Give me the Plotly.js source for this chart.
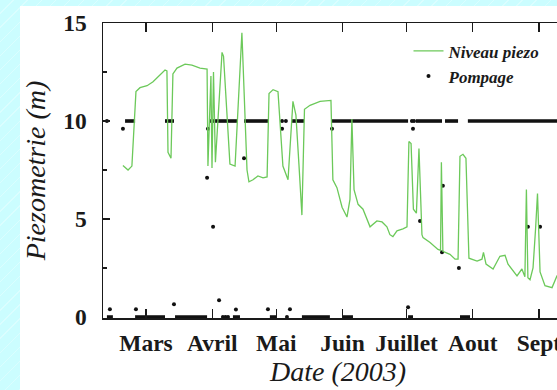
<!DOCTYPE html>
<html><head><meta charset="utf-8">
<script src="https://cdn.plot.ly/plotly-3.0.1.min.js"></script>
<style>
html,body{margin:0;padding:0;overflow:hidden;width:557px;height:390px;
background:#cbfdff repeating-linear-gradient(135deg, rgba(255,255,255,0) 0px, rgba(255,255,255,0) 9px, rgba(255,255,255,0.3) 9px, rgba(255,255,255,0.3) 10px);}
#chart{width:590px;height:390px;}
</style></head><body><div id="chart"></div>
<script>
// x values: day of year 2003 (1 = 1 January)
const monthTicks = [60, 91, 121, 152, 182, 213, 244];
const monthLabels = ['Mars', 'Avril', 'Mai', 'Juin', 'Juillet', 'Aout', 'Sept'];

// Niveau piezo (m)
const niveauDay = [49.2, 51.6, 53.4, 55.3, 57.2, 60.5, 63.3, 66.6, 68.9, 69.8, 70.3, 71.7, 72.6, 74.5, 78.3, 81.5, 85.3, 88.6,
  89.0, 90.4, 90.9, 91.6, 92.5, 95.6, 96.3, 99.3, 101.7, 104.9, 107.3, 108.2, 110.1, 112.4, 114.8, 116.7, 117.6, 119.5, 121.8,
  124.1, 125.1, 126.5, 128.8, 130.2, 131.6, 133.0, 134.2, 136.8, 141.5, 146.6, 147.5, 149.4, 151.8, 154.1, 155.5, 156.4, 157.4,
  159.3, 161.6, 164.9, 168.1, 170.5, 172.8, 174.2, 175.6, 177.5, 180.3, 182.2, 183.1, 184.1, 185.2, 186.6, 187.8, 189.2, 189.7,
  193.0, 196.7, 197.9, 198.3, 199.0, 202.3, 204.7, 206.1, 207.0, 208.4, 209.8, 211.2, 215.0, 217.3, 218.0, 219.2, 222.5, 225.7,
  228.1, 229.5, 233.7, 236.0, 237.4, 238.1, 238.8, 239.8, 241.2, 242.4, 243.3, 244.5, 245.4, 246.8, 250.1, 252.4, 253.8];
const niveauVal = [7.73, 7.5, 7.7, 11.5, 11.7, 11.8, 12.0, 12.35, 12.6, 12.55, 8.4, 8.1, 12.4, 12.7, 12.9, 12.85, 12.7, 12.65,
  7.7, 12.3, 7.6, 12.5, 7.9, 13.5, 13.3, 7.8, 7.7, 14.5, 7.5, 6.9, 7.0, 7.2, 7.1, 7.15, 11.4, 11.6, 11.5,
  7.7, 7.4, 7.0, 11.0, 10.3, 7.8, 5.2, 10.6, 10.8, 11.0, 11.05, 7.0, 6.6, 5.6, 5.1, 6.0, 10.1, 6.5,
  5.75, 5.5, 4.6, 4.9, 4.85, 4.6, 4.2, 4.1, 4.4, 4.5, 4.6, 8.95, 8.85, 5.5, 5.3, 8.6, 4.2, 4.05,
  3.8, 3.45, 3.4, 7.9, 3.35, 3.2, 2.95, 2.95, 8.2, 8.3, 8.1, 3.0, 2.85, 2.95, 3.3, 2.7, 2.45, 3.1,
  3.15, 2.7, 2.1, 2.45, 2.05, 6.5, 2.0, 1.9, 2.5, 4.5, 6.3, 2.3, 2.0, 1.6, 1.5, 2.1, 2.2];

// Pompage: continuous periods of dense readings [start day, end day]
const pompageOnRuns = [[50.2, 54.9], [68.9, 73.1], [90.0, 102.6], [105.9, 117.1], [128.4, 134.0], [147.1, 182.7],
  [186.4, 198.6], [200.0, 206.1], [210.7, 260.0]];
const pompageOnLevel = 10;
const pompageOffRuns = [[41.7, 44.5], [54.9, 68.9], [73.6, 88.6], [100.7, 104.0], [118.0, 121.3], [133.0, 146.1],
  [151.8, 156.9], [182.7, 185.0], [207.0, 211.7]];
const pompageOffLevel = 0;
// Pompage: isolated readings
const pompageDay = [41.7, 43.1, 49.2, 55.3, 73.1, 89.0, 88.6, 91.4, 94.2, 96.0, 97.2, 98.4, 102.1, 105.9, 117.1, 123.7, 123.7,
  125.5, 126.0, 127.4, 147.1, 182.7, 184.5, 185.0, 185.5, 188.3, 198.6, 199.0, 206.5, 238.8, 244.5];
const pompageVal = [10, 0.4, 9.6, 0.4, 0.65, 9.6, 7.1, 4.6, 0.85, 0, 0, 0, 0.38, 8.1, 0.4, 9.6, 10,
  10, 0, 0.4, 9.6, 0.5, 10, 9.6, 10, 4.9, 3.3, 6.7, 2.5, 4.6, 4.6];

const runX = [], runY = [];
[[pompageOnRuns, pompageOnLevel], [pompageOffRuns, pompageOffLevel]].forEach(([runs, lvl]) => {
  runs.forEach(r => { runX.push(r[0], r[1], null); runY.push(lvl, lvl, null); });
});

const serif = 'Liberation Serif, Times New Roman, serif';
const ink = '#1a1a1a';

const traces = [
  {x: runX, y: runY, type: 'scatter', mode: 'lines', line: {color: '#111', width: 3.6}, showlegend: false,
   hoverinfo: 'skip', cliponaxis: false},
  {x: pompageDay, y: pompageVal, type: 'scatter', mode: 'markers', name: 'Pompage', legendrank: 2,
   marker: {color: '#111', size: 4}, cliponaxis: false},
  {x: niveauDay, y: niveauVal, type: 'scatter', mode: 'lines', name: 'Niveau piezo', legendrank: 1,
   line: {color: '#6cc95a', width: 1.3}}
];

const layout = {
  width: 590, height: 390,
  margin: {l: 103, r: 17, t: 23, b: 72},
  paper_bgcolor: 'rgba(0,0,0,0)', plot_bgcolor: 'rgba(0,0,0,0)',
  showlegend: true,
  legend: {x: 0.65, y: 0.965, xanchor: 'left', yanchor: 'top', bgcolor: 'rgba(0,0,0,0)',
    font: {family: serif, size: 17, color: ink, weight: 'bold', style: 'italic'}, tracegroupgap: 0},
  xaxis: {range: [39.87, 259.92], tickmode: 'array', tickvals: monthTicks, ticktext: monthLabels,
    ticks: 'inside', ticklen: 9, tickwidth: 1.2, tickcolor: ink, showline: true, linecolor: ink, linewidth: 1.5,
    mirror: 'ticks', showgrid: false, zeroline: false, ticklabelstandoff: 3,
    tickfont: {family: serif, size: 23.5, color: ink, weight: 'bold'},
    title: {text: 'Date (2003)', font: {family: serif, size: 28, color: ink, style: 'italic'}, standoff: 5}},
  yaxis: {range: [-0.05, 15], tickmode: 'array', tickvals: [0, 5, 10, 15],
    ticks: 'inside', ticklen: 7, tickwidth: 1.2, tickcolor: ink, showline: true, linecolor: ink, linewidth: 1.5,
    mirror: false, showgrid: false, zeroline: false, ticklabelstandoff: 10,
    minor: {tickvals: [2.5, 7.5, 12.5], ticks: 'inside', ticklen: 4, tickwidth: 1.2, tickcolor: ink, showgrid: false},
    tickfont: {family: serif, size: 23.5, color: ink, weight: 'bold'},
    title: {text: 'Piezometrie (m)', font: {family: serif, size: 28, color: ink, style: 'italic'}, standoff: 9}},
  shapes: [{type: 'rect', xref: 'paper', yref: 'paper', x0: -0.1766, x1: 1.2, y0: -0.4, y1: 1.0576,
    fillcolor: '#ffffff', line: {width: 0}, layer: 'below'}]
};

Plotly.newPlot('chart', traces, layout, {displayModeBar: false, staticPlot: true});
</script></body></html>
